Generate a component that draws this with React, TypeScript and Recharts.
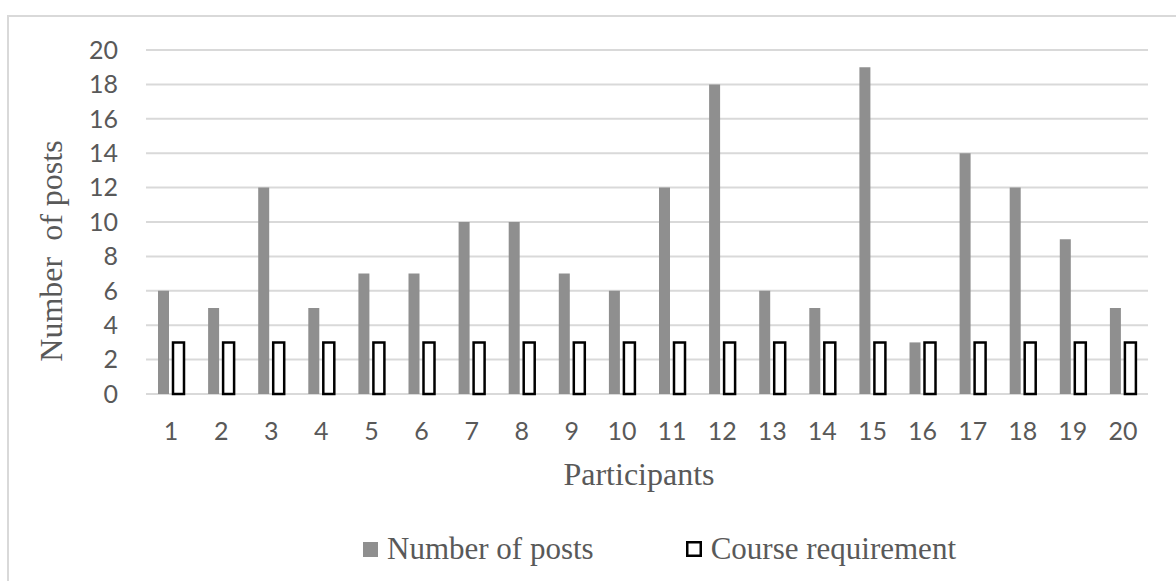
import React from 'react';
import { BarChart, Bar, XAxis, YAxis, CartesianGrid, Legend } from 'recharts';

const participants = ['1', '2', '3', '4', '5', '6', '7', '8', '9', '10', '11', '12', '13', '14', '15', '16', '17', '18', '19', '20'];
const numberOfPosts = [6, 5, 12, 5, 7, 7, 10, 10, 7, 6, 12, 18, 6, 5, 19, 3, 14, 12, 9, 5];
const courseRequirement = [3, 3, 3, 3, 3, 3, 3, 3, 3, 3, 3, 3, 3, 3, 3, 3, 3, 3, 3, 3];
const yTicks = [0, 2, 4, 6, 8, 10, 12, 14, 16, 18, 20];

const TEXT = '#595959';
const GRID = '#d9d9d9';
const POSTS = '#8f8f8f';

const chartData = participants.map((p, i) => ({
  participant: p,
  posts: numberOfPosts[i],
  requirement: courseRequirement[i],
}));

const tickStyle = { fill: TEXT, fontSize: 25, fontFamily: 'Lato, "Open Sans", sans-serif' };
const serif = '"Liberation Serif", "Times New Roman", serif';

const YLabel = ({ viewBox }: any) => {
  const x = viewBox.x - 24;
  const y = viewBox.y + viewBox.height / 2 + 29;
  return (
    <text
      transform={`translate(${x},${y}) rotate(-90)`}
      textAnchor="middle"
      fill={TEXT}
      fontSize={32}
      fontFamily={serif}
      style={{ whiteSpace: 'pre' }}
    >
      {'Number  of posts'}
    </text>
  );
};

const CustomLegend = () => (
  <div style={{ display: 'flex', alignItems: 'center', height: 40, paddingLeft: 363, fontFamily: serif, fontSize: 31, color: TEXT }}>
    <svg width={15} height={15} style={{ marginRight: 9 }}>
      <rect x={0} y={0} width={15} height={15} fill={POSTS} />
    </svg>
    <span>Number of posts</span>
    <svg width={16} height={16} style={{ marginLeft: 92, marginRight: 9 }}>
      <rect x={1.25} y={1.25} width={13.5} height={13.5} fill="#fff" stroke="#000" strokeWidth={2.5} />
    </svg>
    <span>Course requirement</span>
  </div>
);

export default function App() {
  return (
    <div style={{ position: 'absolute', left: 0, top: 0, width: 1176, height: 581, overflow: 'hidden', background: '#fff' }}>
      <div style={{ position: 'absolute', left: 7, top: 15, width: 1200, height: 700, border: `2px solid ${GRID}` }} />
      <div style={{ position: 'absolute', left: 0, top: 0 }}>
        <BarChart
          width={1176}
          height={581}
          data={chartData}
          margin={{ top: 50, right: 28, left: 86, bottom: 47 }}
          barSize={11}
          barGap={4}
        >
          <CartesianGrid vertical={false} stroke={GRID} strokeWidth={2} />
          <XAxis
            dataKey="participant"
            axisLine={false}
            tickLine={false}
            tickSize={0}
            tickMargin={28}
            height={100}
            tick={tickStyle}
            interval={0}
            label={{ value: 'Participants', position: 'insideBottom', offset: 9, dx: -8, fill: TEXT, fontSize: 32, fontFamily: serif }}
          />
          <YAxis
            domain={[0, 20]}
            ticks={yTicks}
            axisLine={false}
            tickLine={false}
            tickSize={0}
            tickMargin={28}
            width={60}
            tick={tickStyle}
            label={<YLabel />}
          />
          <Legend content={<CustomLegend />} verticalAlign="bottom" wrapperStyle={{ left: 0, bottom: 12, width: 1176, height: 40 }} />
          <Bar dataKey="posts" name="Number of posts" fill={POSTS} isAnimationActive={false} />
          <Bar dataKey="requirement" name="Course requirement" fill="#fff" stroke="#000" strokeWidth={2.5} isAnimationActive={false} />
        </BarChart>
      </div>
    </div>
  );
}
